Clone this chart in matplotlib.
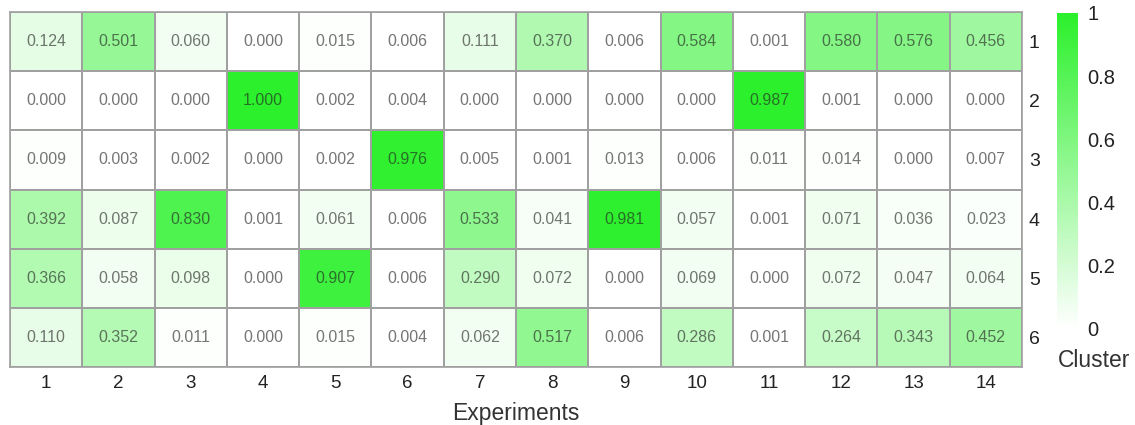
import matplotlib
matplotlib.use("Agg")
import matplotlib.pyplot as plt
import numpy as np
from matplotlib.colors import LinearSegmentedColormap

plt.rcParams["font.family"] = ["Liberation Sans", "DejaVu Sans"]

experiments = [str(i) for i in range(1, 15)]
clusters = [str(i) for i in range(1, 7)]

cluster_1 = [0.124, 0.501, 0.060, 0.000, 0.015, 0.006, 0.111, 0.370, 0.006, 0.584, 0.001, 0.580, 0.576, 0.456]
cluster_2 = [0.000, 0.000, 0.000, 1.000, 0.002, 0.004, 0.000, 0.000, 0.000, 0.000, 0.987, 0.001, 0.000, 0.000]
cluster_3 = [0.009, 0.003, 0.002, 0.000, 0.002, 0.976, 0.005, 0.001, 0.013, 0.006, 0.011, 0.014, 0.000, 0.007]
cluster_4 = [0.392, 0.087, 0.830, 0.001, 0.061, 0.006, 0.533, 0.041, 0.981, 0.057, 0.001, 0.071, 0.036, 0.023]
cluster_5 = [0.366, 0.058, 0.098, 0.000, 0.907, 0.006, 0.290, 0.072, 0.000, 0.069, 0.000, 0.072, 0.047, 0.064]
cluster_6 = [0.110, 0.352, 0.011, 0.000, 0.015, 0.004, 0.062, 0.517, 0.006, 0.286, 0.001, 0.264, 0.343, 0.452]

values = np.array([cluster_1, cluster_2, cluster_3, cluster_4, cluster_5, cluster_6])

cmap = LinearSegmentedColormap.from_list("white_green", ["#ffffff", "#2bf02b"])

fig = plt.figure(figsize=(11.35, 4.25), dpi=100)
ax = fig.add_axes([10 / 1135, 1 - 367 / 425, 1012 / 1135, 355 / 425])
cax = fig.add_axes([1057 / 1135, 1 - 329 / 425, 21 / 1135, 316 / 425])

mesh = ax.pcolormesh(values, cmap=cmap, vmin=0, vmax=1,
                     edgecolors="#a0a0a0", linewidth=1.2)
ax.set_xlim(0, len(experiments))
ax.set_ylim(len(clusters), 0)

for r in range(values.shape[0]):
    for c in range(values.shape[1]):
        ax.text(c + 0.5, r + 0.5, f"{values[r, c]:.3f}", ha="center", va="center",
                fontsize=11.5, color="#222222", alpha=0.62)

ax.set_xticks(np.arange(len(experiments)) + 0.5)
ax.set_xticklabels(experiments, fontsize=13.5, color="#222222")
ax.set_yticks(np.arange(len(clusters)) + 0.5)
ax.set_yticklabels(clusters, fontsize=14, color="#222222")
ax.yaxis.tick_right()
ax.tick_params(length=0, pad=6)
ax.tick_params(axis="y", pad=5)
ax.set_xlabel("Experiments", fontsize=16.5, color="#333333", labelpad=7)
for s in ax.spines.values():
    s.set_color("#a0a0a0")
    s.set_linewidth(1.2)

cb = fig.colorbar(mesh, cax=cax)
cb.outline.set_visible(False)
cb.set_ticks([0, 0.2, 0.4, 0.6, 0.8, 1])
cb.set_ticklabels(["0", "0.2", "0.4", "0.6", "0.8", "1"])
cax.tick_params(length=0, labelsize=14.5, labelcolor="#222222", pad=7)
cax.text(1.75, -0.1, "Cluster", transform=cax.transAxes, ha="center", va="center",
         fontsize=16.5, color="#333333")

fig.savefig("out.png", dpi=100)
